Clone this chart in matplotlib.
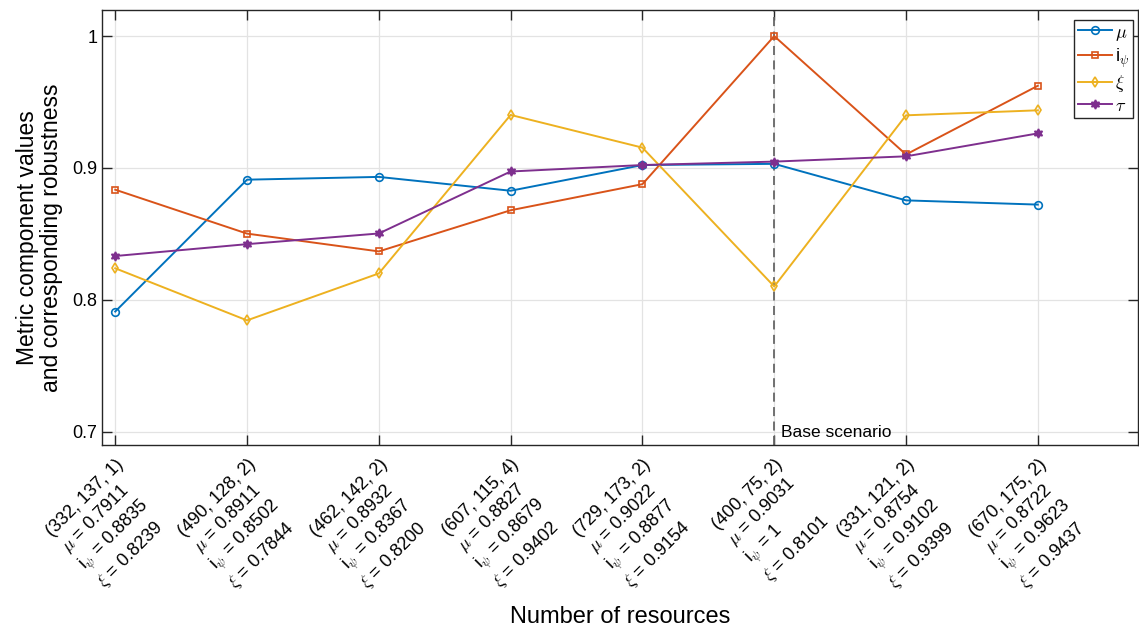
import numpy as np
import matplotlib.pyplot as plt
import matplotlib.transforms as mtransforms

plt.rcParams['font.family'] = ['Liberation Sans', 'DejaVu Sans']
plt.rcParams['mathtext.fontset'] = 'cm'

# resource configurations (x axis)
configs = ['(332, 137, 1)', '(490, 128, 2)', '(462, 142, 2)', '(607, 115, 4)',
           '(729, 173, 2)', '(400, 75, 2)', '(331, 121, 2)', '(670, 175, 2)']
mu = [0.7911, 0.8911, 0.8932, 0.8827, 0.9022, 0.9031, 0.8754, 0.8722]
i_psi = [0.8835, 0.8502, 0.8367, 0.8679, 0.8877, 1.0, 0.9102, 0.9623]
xi = [0.8239, 0.7844, 0.8200, 0.9402, 0.9154, 0.8101, 0.9399, 0.9437]
mu_lbl = ['0.7911', '0.8911', '0.8932', '0.8827', '0.9022', '0.9031', '0.8754', '0.8722']
ipsi_lbl = ['0.8835', '0.8502', '0.8367', '0.8679', '0.8877', '1', '0.9102', '0.9623']
xi_lbl = ['0.8239', '0.7844', '0.8200', '0.9402', '0.9154', '0.8101', '0.9399', '0.9437']
tau = [0.8332, 0.8422, 0.8503, 0.8973, 0.9022, 0.9048, 0.9088, 0.9262]
base_idx = 6

colors = ['#0072BD', '#D95319', '#EDB120', '#7E2F8E']

fig = plt.figure(figsize=(11.39, 6.31), dpi=100)
ax = fig.add_axes([0.0896, 0.295, 0.9095, 0.689])

x = np.arange(1, len(configs) + 1)
ax.axvline(base_idx, color='#666666', ls=(0, (5, 3)), lw=1.3, zorder=1)
ax.plot(x, mu, '-o', color=colors[0], lw=1.4, ms=5.5, mfc='none', mew=1.2, label=r'$\mu$')
ax.plot(x, i_psi, '-s', color=colors[1], lw=1.4, ms=5, mfc='none', mew=1.2, label=r'i$_\psi$')
ax.plot(x, xi, '-d', color=colors[2], lw=1.4, ms=5.5, mfc='none', mew=1.2, label=r'$\xi$')
ax.plot(x, tau, '-', marker=(6, 1, 0), color=colors[3], lw=1.4, ms=6.5, mew=1.2, label=r'$\tau$')

ax.text(base_idx + 0.05, 0.6961, 'Base scenario', fontsize=12.5, ha='left', va='baseline')

ax.set_xlim(0.9, 8.76)
ax.set_ylim(0.69, 1.0197)
ax.set_yticks([0.7, 0.8, 0.9, 1.0])
ax.set_yticklabels(['0.7', '0.8', '0.9', '1'])

labels = []
for c, m, ip, xv in zip(configs, mu_lbl, ipsi_lbl, xi_lbl):
    labels.append(c + '\n' + r'$\mu$ = ' + m + '\n' + r'i$_\psi$ = ' + ip + '\n' + r'$\xi$ = ' + xv)
ax.set_xticks(x)
ax.set_xticklabels(labels, rotation=45, ha='right', va='top', rotation_mode='anchor',
                   multialignment='left', fontsize=13, linespacing=1.2)
# nudge the rotated labels a little to the right, as in the original
shift = mtransforms.ScaledTranslation(6 / 100, -2 / 100, fig.dpi_scale_trans)
for lbl in ax.get_xticklabels():
    lbl.set_transform(lbl.get_transform() + shift)

ax.grid(True, color='#e3e3e3', lw=0.9)
ax.set_axisbelow(True)
ax.tick_params(direction='in', length=7, width=1, colors='#262626', labelsize=13,
               top=True, right=True, labelcolor='black')
ax.tick_params(axis='x', pad=8)
for s in ax.spines.values():
    s.set_color('#262626')
    s.set_linewidth(1)

ax.set_ylabel('Metric component values\nand corresponding robustness', fontsize=16.5,
              linespacing=1.05)
ax.yaxis.set_label_coords(-0.0376, 0.476)
ax.set_xlabel('Number of resources', fontsize=17)
ax.xaxis.set_label_coords(0.5, -0.37)

leg = ax.legend(loc='upper right', bbox_to_anchor=(1 - 5 / 1036, 1 - 10 / 435),
                fontsize=13, handlelength=1.9, framealpha=1, fancybox=False,
                edgecolor='#262626', borderpad=0.2, labelspacing=0.2,
                handletextpad=0.15, borderaxespad=0)
leg.get_frame().set_linewidth(1)

fig.savefig('out.png', dpi=100)
